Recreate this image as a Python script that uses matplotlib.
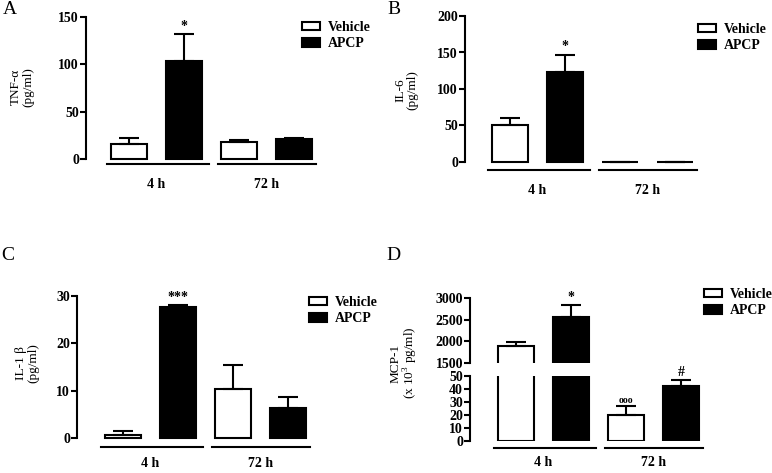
import matplotlib
matplotlib.use("Agg")
import matplotlib.pyplot as plt
import matplotlib.transforms as mtransforms
import numpy as np

plt.rcParams['font.family'] = ['Liberation Serif', 'DejaVu Serif']
plt.rcParams['mathtext.fontset'] = 'custom'
plt.rcParams['mathtext.rm'] = 'Liberation Serif'

# ---------------- data ----------------
groups = ['4 h', '72 h']
series = ['Vehicle', 'APCP']

tnf_vehicle = [16, 18]
tnf_vehicle_err = [6, 2]
tnf_apcp = [104, 21]
tnf_apcp_err = [28, 1]

il6_vehicle = [51, 0]
il6_vehicle_err = [9, 0]
il6_apcp = [123, 0]
il6_apcp_err = [24, 0]

il1b_vehicle = [0.7, 10.3]
il1b_vehicle_err = [0.8, 5.2]
il1b_apcp = [27.6, 6.3]
il1b_apcp_err = [0.5, 2.4]

mcp1_vehicle = [1900, 20]
mcp1_vehicle_err = [75, 7]
mcp1_apcp = [2560, 42]
mcp1_apcp_err = [280, 5]

tnf_ticks = [0, 50, 100, 150]
il6_ticks = [0, 50, 100, 150, 200]
il1b_ticks = [0, 10, 20, 30]
mcp1_top_ticks = [1500, 2000, 2500, 3000]
mcp1_low_ticks = [0, 10, 20, 30, 40, 50]

# ---------------- layout helpers ----------------
W, H = 772, 473
fig = plt.figure(figsize=(W / 100, H / 100), dpi=100)

FS = 10
BOLD = dict(fontweight='bold', fontsize=FS)
LW = 1.5
BW = 0.67
XR = 3.5


def make_ax(c0, sp, axis_px, zero_px, top_px):
    xl = (axis_px - c0) / sp
    width = (XR - xl) * sp
    ax = fig.add_axes([axis_px / W, (H - zero_px) / H, width / W,
                       (zero_px - top_px) / H])
    ax.set_xlim(xl, XR)
    ax.patch.set_alpha(0)
    for s in ['top', 'right', 'bottom']:
        ax.spines[s].set_visible(False)
    ax.spines['left'].set_linewidth(LW)
    ax.set_xticks([])
    ax.tick_params(axis='y', direction='out', length=4, width=LW, pad=1,
                   labelsize=FS)
    return ax


def style_ticks(ax, ticks):
    ax.set_yticks(ticks)
    ax.set_ylim(ticks[0], ticks[-1])
    for t in ax.get_yticklabels():
        t.set_fontweight('bold')


def draw_bars(ax, veh, veh_err, apc, apc_err, clip=False):
    x = np.arange(len(groups)) * 2
    bv = ax.bar(x, veh, BW, color='white', edgecolor='black', linewidth=LW,
                yerr=[np.zeros(len(veh)), veh_err], capsize=7,
                error_kw=dict(elinewidth=LW, capthick=LW, ecolor='black'),
                zorder=3, label=series[0])
    ba = ax.bar(x + 1, apc, BW, color='black', edgecolor='black', linewidth=LW,
                yerr=[np.zeros(len(apc)), apc_err], capsize=7,
                error_kw=dict(elinewidth=LW, capthick=LW, ecolor='black'),
                zorder=3, label=series[1])
    if not clip:
        for c in (bv, ba):
            for p in c.patches:
                p.set_clip_on(False)
            for art in c.errorbar.lines[1] + c.errorbar.lines[2]:
                art.set_clip_on(False)
    return bv, ba


def group_lines(ax, line_off, label_off):
    tr = mtransforms.blended_transform_factory(ax.transData, ax.transAxes)
    tl = tr + mtransforms.ScaledTranslation(0, -line_off / 100, fig.dpi_scale_trans)
    tt = tr + mtransforms.ScaledTranslation(0, -label_off / 100, fig.dpi_scale_trans)
    for (a, b), lab, c in zip([(-0.4, 1.45), (1.62, 3.4)], groups, [0.5, 2.5]):
        ax.plot([a, b], [0, 0], color='black', lw=LW, transform=tl, clip_on=False)
        ax.text(c, 0, lab, transform=tt, ha='center', va='center', **BOLD)


def legend(ax, handles, box_x, box_cy):
    ax.legend(handles, series, loc='upper left',
              bbox_to_anchor=(box_x / W, 1 - (box_cy - 8) / H),
              bbox_transform=fig.transFigure, frameon=False,
              prop=dict(weight='bold', size=FS), handlelength=1.3,
              handleheight=0.55, handletextpad=0.55, labelspacing=0.25,
              borderpad=0, borderaxespad=0)


def star(ax, x, y, s, dy=1, size=FS):
    ax.annotate(s, (x, y), xytext=(0, dy), textcoords='offset points',
                ha='center', va='bottom', fontweight='bold', fontsize=size,
                annotation_clip=False)


def ylab(x, y, s):
    fig.text(x / W, 1 - y / H, s, rotation=90, ha='center', va='center',
             fontsize=9.5, multialignment='center', linespacing=1.0)


def letter(x, y, s):
    fig.text(x / W, 1 - y / H, s, ha='center', va='center', fontsize=14)


# ---------------- Panel A ----------------
axA = make_ax(129, 55, 86, 159, 17)
style_ticks(axA, tnf_ticks)
h = draw_bars(axA, tnf_vehicle, tnf_vehicle_err, tnf_apcp, tnf_apcp_err)
group_lines(axA, 5, 25)
legend(axA, h, 302, 29)
star(axA, 1, tnf_apcp[0] + tnf_apcp_err[0], '*')
ylab(22, 87, 'TNF-α\n(pg/ml)')
letter(10, 10, 'A')

# ---------------- Panel B ----------------
axB = make_ax(510, 55, 465, 162, 16)
style_ticks(axB, il6_ticks)
h = draw_bars(axB, il6_vehicle, il6_vehicle_err, il6_apcp, il6_apcp_err)
group_lines(axB, 8, 28)
legend(axB, h, 698, 31)
star(axB, 1, il6_apcp[0] + il6_apcp_err[0], '*')
ylab(406, 90, 'IL-6\n(pg/ml)')
letter(394, 9, 'B')

# ---------------- Panel C ----------------
axC = make_ax(123, 55, 77, 438, 296)
style_ticks(axC, il1b_ticks)
h = draw_bars(axC, il1b_vehicle, il1b_vehicle_err, il1b_apcp, il1b_apcp_err)
group_lines(axC, 9, 25)
legend(axC, h, 309, 304)
star(axC, 1, il1b_apcp[0] + il1b_apcp_err[0], '***')
ylab(27, 363, 'IL-1 β\n(pg/ml)')
letter(8, 255, 'C')

# ---------------- Panel D (broken axis) ----------------
axDt = make_ax(516, 55, 470, 363, 298)
style_ticks(axDt, mcp1_top_ticks)
draw_bars(axDt, mcp1_vehicle, mcp1_vehicle_err, mcp1_apcp, mcp1_apcp_err, clip=True)
star(axDt, 1, mcp1_apcp[0] + mcp1_apcp_err[0], '*')

axDb = make_ax(516, 55, 470, 441, 376)
style_ticks(axDb, mcp1_low_ticks)
h = draw_bars(axDb, mcp1_vehicle, mcp1_vehicle_err, mcp1_apcp, mcp1_apcp_err, clip=True)
group_lines(axDb, 7, 21)
legend(axDb, h, 704, 296)
star(axDb, 2, mcp1_vehicle[1] + mcp1_vehicle_err[1], 'ooo', size=7)
star(axDb, 3, mcp1_apcp[1] + mcp1_apcp_err[1], '#')
ylab(405, 363, 'MCP-1\n(x 10$^{3}$ pg/ml)')
letter(393, 255, 'D')

fig.savefig('out.png', dpi=100)
